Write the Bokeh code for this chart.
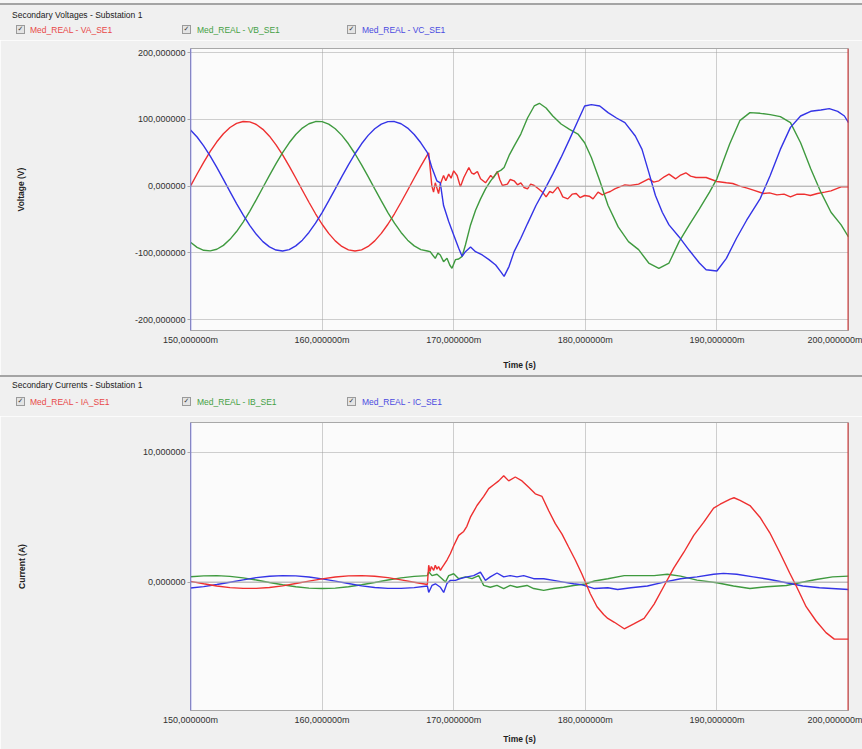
from bokeh.plotting import figure
from bokeh.layouts import column
from bokeh.models import Range1d, FixedTicker, Span, Div
from bokeh.embed import file_html
from bokeh.resources import INLINE

# ---------------- data (time in ms) ----------------
x_ticks = [150, 160, 170, 180, 190, 200]
x_tick_labels = ["150,000000m", "160,000000m", "170,000000m", "180,000000m", "190,000000m", "200,000000m"]
v_ticks = [200, 100, 0, -100, -200]
v_tick_labels = ["200,000000", "100,000000", "0,000000", "-100,000000", "-200,000000"]
i_ticks = [10, 0]
i_tick_labels = ["10,000000", "0,000000"]

title_v = "Secondary Voltages - Substation 1"
title_i = "Secondary Currents - Substation 1"
legend_v = ["Med_REAL - VA_SE1", "Med_REAL - VB_SE1", "Med_REAL - VC_SE1"]
legend_i = ["Med_REAL - IA_SE1", "Med_REAL - IB_SE1", "Med_REAL - IC_SE1"]

# pre-fault voltages (0.5 ms samples)
t_pre_v = [150.0, 150.5, 151.0, 151.5, 152.0, 152.5, 153.0, 153.5, 154.0, 154.5,
           155.0, 155.5, 156.0, 156.5, 157.0, 157.5, 158.0, 158.5, 159.0, 159.5,
           160.0, 160.5, 161.0, 161.5, 162.0, 162.5, 163.0, 163.5, 164.0, 164.5,
           165.0, 165.5, 166.0, 166.5, 167.0, 167.5, 168.0]
va_pre = [0, 18.2, 35.7, 52.0, 66.4, 78.5, 87.8, 94.0, 96.8, 96.2,
          92.3, 85.0, 74.8, 61.8, 46.7, 30.0, 12.2, -6.1, -24.1, -41.3,
          -57.0, -70.7, -81.9, -90.2, -95.3, -97.0, -95.3, -90.2, -81.9, -70.7,
          -57.0, -41.3, -24.1, -6.1, 12.2, 30.0, 46.7]
vb_pre = [-84.0, -91.6, -96.0, -96.9, -94.4, -88.6, -79.6, -67.9, -53.7, -37.6,
          -20.2, -2.0, 16.2, 33.8, 50.2, 64.9, 77.3, 86.9, 93.4, 96.7,
          96.5, 92.9, 85.9, 76.0, 63.4, 48.5, 31.9, 14.2, -4.1, -22.1,
          -39.5, -55.4, -69.3, -80.8, -89.4, -94.9, -97.0]
vc_pre = [84.0, 73.5, 60.3, 44.9, 28.0, 10.1, -8.1, -26.1, -43.1, -58.6,
          -72.1, -83.0, -90.9, -95.6, -97.0, -94.9, -89.4, -80.8, -69.3, -55.4,
          -39.5, -22.1, -4.1, 14.2, 31.9, 48.5, 63.4, 76.0, 85.9, 92.9,
          96.5, 96.7, 93.4, 86.9, 77.3, 64.9, 50.2]

# post-fault voltages
t_va_post = [168.1, 168.34, 168.47, 168.6, 168.85, 168.98, 169.23, 169.4, 169.62, 169.8,
             170.0, 170.26, 170.51, 170.77, 171.15, 171.35, 171.53, 171.8, 172.04, 172.42,
             172.81, 173.0, 173.32, 173.5, 173.7, 174.08, 174.3, 174.59, 174.85, 175.1,
             175.35, 175.61, 175.85, 176.12, 176.51, 176.75, 177.02, 177.3, 177.53, 177.91,
             178.1, 178.29, 178.67, 179.0, 179.31, 179.6, 179.95, 180.3, 180.59, 180.97,
             181.3, 181.61, 181.9, 182.24, 182.6, 183.01, 183.4, 184.05, 184.82, 185.2,
             185.59, 186.0, 186.36, 186.87, 187.2, 187.64, 188.0, 188.41, 189.18, 190.0,
             190.72, 191.2, 191.74, 192.3, 192.77, 193.54, 194.0, 194.56, 195.1, 195.59,
             196.1, 196.62, 197.1, 197.64, 198.2, 198.67, 199.44, 200.0]
va_post = [50, 0, -9, 5, -11, 3, 16, 8, 18, 12,
           23, 16, -1, 13, 28, 20, 18, 22, 11, 5,
           16, 12, 22, 10, 1, 3, 10, 8, 2, 5,
           -2, -4, 3, 1, -5, -9, -16, -8, -10, -1,
           -8, -16, -19, -12, -11, -17, -14, -15, -19, -9,
           -13, -10, -8, -4, -1, 2, 1, 3, 11, 6,
           8, 14, 18, 11, 16, 20, 15, 13, 13, 7,
           5, 4, 0, -3, -6, -11, -10, -13, -12, -16,
           -12, -12, -14, -11, -9, -7, -1, -1]

t_vb_post = [168.21, 168.4, 168.6, 168.8, 168.98, 169.23, 169.49, 169.7, 169.87, 170.13,
             170.38, 170.64, 170.89, 171.28, 171.66, 172.04, 172.42, 172.81, 173.32, 173.6,
             173.83, 174.21, 174.59, 175.1, 175.61, 176.12, 176.51, 177.02, 177.53, 178.16,
             178.8, 179.44, 179.95, 180.46, 181.1, 181.73, 182.5, 183.28, 184.05, 184.82,
             185.59, 186.36, 187.13, 187.9, 188.67, 189.44, 190.0, 190.46, 190.97, 191.74,
             192.51, 193.28, 194.05, 194.82, 195.59, 196.36, 197.13, 197.9, 198.67, 199.44,
             200.0]
vb_post = [-98, -103, -108, -100, -103, -113, -108, -118, -123, -110,
           -109, -105, -88, -58, -36, -19, -4, 8, 21, 24,
           28, 46, 60, 78, 102, 120, 124, 117, 105, 93,
           85, 78, 65, 43, 8, -29, -61, -83, -95, -115,
           -123, -115, -83, -58, -34, -9, 11, 36, 63, 98,
           110, 109, 107, 104, 95, 65, 26, -9, -39, -58,
           -76]

t_vc_post = [168.34, 168.72, 168.98, 169.23, 169.62, 170.0, 170.38, 170.64, 170.89, 171.28,
             171.66, 172.17, 172.68, 173.19, 173.57, 173.83, 174.21, 174.59, 175.1, 175.61,
             176.25, 176.89, 177.53, 178.16, 178.8, 179.44, 179.95, 180.46, 181.1, 181.73,
             182.37, 183.01, 183.8, 184.31, 184.82, 185.33, 185.85, 186.36, 187.13, 187.9,
             188.67, 189.18, 190.0, 190.72, 191.49, 192.26, 193.28, 194.05, 194.82, 195.59,
             196.36, 197.13, 197.9, 198.54, 199.18, 199.69, 200.0]
vc_post = [28, 8, 5, -29, -53, -73, -93, -105, -98, -91,
           -98, -103, -110, -118, -128, -135, -120, -98, -78, -56,
           -29, -6, 18, 43, 70, 98, 120, 122, 120, 110,
           102, 95, 75, 55, 21, -14, -39, -58, -76, -96,
           -115, -125, -127, -108, -78, -51, -19, 16, 55, 88,
           105, 112, 114, 116, 112, 105, 95]

# pre-fault currents (1 ms samples)
t_pre_i = [150, 151, 152, 153, 154, 155, 156, 157, 158, 159,
           160, 161, 162, 163, 164, 165, 166, 167, 168]
ia_pre = [0.05, -0.13, -0.30, -0.43, -0.49, -0.49, -0.42, -0.29, -0.11, 0.07,
          0.25, 0.39, 0.48, 0.50, 0.45, 0.34, 0.17, -0.01, -0.19]
ib_pre = [0.41, 0.48, 0.50, 0.44, 0.32, 0.16, -0.03, -0.21, -0.36, -0.47,
          -0.50, -0.47, -0.36, -0.21, -0.03, 0.16, 0.32, 0.44, 0.50]
ic_pre = [-0.46, -0.35, -0.19, -0.01, 0.17, 0.34, 0.45, 0.50, 0.48, 0.39,
          0.25, 0.07, -0.11, -0.29, -0.42, -0.49, -0.49, -0.43, -0.30]

# post-fault currents
t_ia_post = [168.1, 168.2, 168.3, 168.48, 168.6, 168.73, 168.85, 168.99, 169.1, 169.24,
             169.49, 169.75, 170.0, 170.38, 170.76, 171.0, 171.27, 171.77, 172.28, 172.66,
             173.04, 173.42, 173.8, 174.18, 174.68, 175.19, 175.7, 176.2, 176.71, 177.22,
             177.72, 178.23, 178.73, 179.24, 179.75, 180.0, 180.38, 180.89, 181.39, 181.71,
             182.21, 182.96, 183.72, 184.47, 185.23, 185.98, 186.73, 187.49, 188.24, 188.99,
             189.75, 190.25, 191.01, 191.3, 191.76, 192.51, 193.27, 194.02, 194.77, 195.53,
             196.03, 196.78, 197.54, 198.29, 198.92, 199.8, 200.0]
ia_post = [1.3, 0.8, 1.2, 0.9, 1.3, 1.0, 1.2, 0.9, 1.1, 1.3,
           1.7, 2.2, 2.8, 3.6, 3.9, 4.3, 5.0, 5.9, 6.6, 7.2,
           7.5, 7.8, 8.2, 7.8, 8.1, 7.8, 7.3, 6.8, 6.6, 5.5,
           4.5, 3.7, 2.7, 1.7, 0.6, 0.0, -0.9, -1.9, -2.5, -2.8,
           -3.1, -3.6, -3.2, -2.8, -1.7, -0.3, 1.1, 2.3, 3.6, 4.6,
           5.7, 6.0, 6.4, 6.5, 6.3, 5.9, 5.0, 3.8, 2.3, 0.7,
           -0.3, -1.9, -3.0, -3.9, -4.4, -4.4, -4.4]

t_ib_post = [168.1, 168.35, 168.73, 169.11, 169.37, 169.62, 170.0, 170.38, 170.89, 171.39,
             171.9, 172.28, 172.78, 173.29, 173.8, 174.3, 174.81, 175.57, 176.08, 176.84,
             177.59, 178.35, 179.11, 180.0, 180.7, 181.71, 182.96, 184.22, 185.23, 186.23,
             187.24, 188.49, 190.0, 191.26, 192.51, 193.77, 195.28, 196.28, 197.54, 198.79,
             200.0]
ib_post = [0.8, 0.5, 0.6, 0.26, 0.0, 0.5, 0.64, 0.26, 0.4, 0.26,
           0.5, -0.26, -0.4, -0.26, -0.5, -0.26, -0.4, -0.26, -0.5, -0.64,
           -0.5, -0.4, -0.26, -0.15, 0.08, 0.26, 0.5, 0.5, 0.5, 0.6,
           0.46, 0.15, -0.05, -0.3, -0.5, -0.36, -0.26, -0.05, 0.2, 0.4,
           0.46]

t_ic_post = [168.1, 168.35, 168.61, 168.99, 169.24, 169.49, 169.75, 170.13, 170.51, 171.01,
             171.52, 172.03, 172.41, 172.78, 173.29, 173.8, 174.3, 174.81, 175.32, 176.08,
             176.84, 177.59, 178.35, 179.11, 179.7, 180.7, 181.71, 182.46, 183.47, 184.72,
             185.98, 187.24, 188.49, 189.75, 190.5, 191.51, 192.76, 194.02, 195.28, 196.53,
             197.79, 200.0]
ic_post = [-0.8, -0.26, -0.13, -0.4, -0.8, -0.1, 0.13, 0.13, 0.26, 0.4,
           0.5, 0.77, 0.13, 0.4, 0.7, 0.4, 0.5, 0.4, 0.5, 0.26,
           0.26, 0.13, 0.0, -0.13, -0.2, -0.5, -0.44, -0.57, -0.44, -0.3,
           0.0, 0.26, 0.4, 0.6, 0.67, 0.6, 0.4, 0.2, -0.05, -0.3,
           -0.44, -0.57]

# ---------------- styling ----------------
RED, GREEN, BLUE = "#ee3030", "#3f9a3f", "#3434e6"
TXT_COLORS = ["#e84848", "#44a044", "#4a4ae0"]
PANEL_BG = "#f0f0f0"
FONT = "Liberation Sans"
W = 862
LEFT, RIGHT = 190, 14


def make_header(height, title, legend, title_top, legend_top, line_top):
    box_x = [16, 182, 347]
    txt_x = [30, 197, 362]
    parts = [
        f'<div style="position:relative;width:{W}px;height:{height}px;background:{PANEL_BG};'
        f"font-family:'{FONT}',sans-serif;font-size:8.5px;line-height:10px;overflow:hidden;\">",
        f'<div style="position:absolute;left:0;top:0;width:{W}px;height:{line_top}px;background:#f6f6f6;"></div>',
        f'<div style="position:absolute;left:0;top:{line_top}px;width:{W}px;height:2px;background:#a4a4a4;"></div>',
        f'<span style="position:absolute;left:12px;top:{title_top}px;color:#202020;'
        f'white-space:nowrap;">{title}</span>',
    ]
    for bx, tx, lab, col in zip(box_x, txt_x, legend, TXT_COLORS):
        parts.append(
            f'<span style="position:absolute;left:{bx}px;top:{legend_top}px;width:9px;height:9px;'
            f'box-sizing:border-box;border:1px solid #9a9a9a;background:#e4e4e4;color:#3a3a3a;'
            f"font-family:'DejaVu Sans';font-size:7px;line-height:7px;text-align:center;\">&#10003;</span>")
        parts.append(
            f'<span style="position:absolute;left:{tx}px;top:{legend_top - 0.5}px;color:{col};'
            f'white-space:nowrap;">{lab}</span>')
    parts.append("</div>")
    return Div(text="".join(parts), width=W, height=height, margin=0)


def make_panel(height, top, bottom, axis_title, y_range, ticks, tick_labels, series,
               ylab_standoff, xlab_standoff):
    p = figure(width=W, height=height, output_backend="svg", toolbar_location=None,
               x_range=Range1d(150, 200), y_range=Range1d(*y_range),
               min_border_left=LEFT, min_border_right=RIGHT,
               min_border_top=top, min_border_bottom=bottom)
    p.border_fill_color = PANEL_BG
    p.background_fill_color = "#fbfbfb"
    p.outline_line_color = "#a8a8a8"

    p.xaxis.ticker = FixedTicker(ticks=x_ticks)
    p.xaxis.major_label_overrides = dict(zip(x_ticks, x_tick_labels))
    p.yaxis.ticker = FixedTicker(ticks=ticks)
    p.yaxis.major_label_overrides = dict(zip(ticks, tick_labels))
    for ax in (p.xaxis, p.yaxis):
        ax.minor_tick_line_color = None
        ax.major_label_text_font = FONT
        ax.major_label_text_font_size = "9px"
        ax.major_label_text_color = "#303030"
        ax.axis_line_color = "#a8a8a8"
        ax.major_tick_line_color = "#a8a8a8"
        ax.axis_label_text_font = FONT
        ax.axis_label_text_font_size = "8.5px"
        ax.axis_label_text_font_style = "bold"
        ax.axis_label_text_color = "#202020"
    p.xaxis.major_tick_out = 0
    p.xaxis.major_tick_in = 0
    p.xaxis.major_label_standoff = 4
    p.xaxis.axis_label = "Time (s)"
    p.xaxis.axis_label_standoff = xlab_standoff
    p.yaxis.major_tick_out = 3
    p.yaxis.major_tick_in = 0
    p.yaxis.major_label_standoff = 2
    p.yaxis.axis_label = axis_title
    p.yaxis.axis_label_standoff = ylab_standoff

    p.xgrid.ticker = FixedTicker(ticks=x_ticks)
    p.ygrid.ticker = FixedTicker(ticks=ticks)
    for g in (p.xgrid, p.ygrid):
        g.grid_line_color = "#a0a0a0"
        g.grid_line_dash = "1 1"
        g.grid_line_width = 1

    p.add_layout(Span(location=0, dimension="width", line_color="#b4b4b4", line_width=1))
    for (t, y, c) in series:
        p.line(t, y, line_color=c, line_width=1.4)
    p.add_layout(Span(location=150, dimension="height", line_color="#6464e0", line_width=1.5))
    p.add_layout(Span(location=200, dimension="height", line_color="#d83030", line_width=2))
    return p


h1 = make_header(40, title_v, legend_v, 10, 25, 3)
p1 = make_panel(335, 8, 45, "Voltage (V)", (-216, 206), v_ticks, v_tick_labels,
                [(t_pre_v + t_va_post, va_pre + va_post, RED),
                 (t_pre_v + t_vb_post, vb_pre + vb_post, GREEN),
                 (t_pre_v + t_vc_post, vc_pre + vc_post, BLUE)],
                ylab_standoff=106, xlab_standoff=12)
h2 = make_header(41, title_i, legend_i, 5, 22, 0)
p2 = make_panel(333, 6, 39, "Current (A)", (-9.9, 12.3), i_ticks, i_tick_labels,
                [(t_pre_i + t_ib_post, ib_pre + ib_post, GREEN),
                 (t_pre_i + t_ic_post, ic_pre + ic_post, BLUE),
                 (t_pre_i + t_ia_post, ia_pre + ia_post, RED)],
                ylab_standoff=113, xlab_standoff=6)

layout = column(h1, p1, h2, p2, spacing=0)
open("out.html", "w").write(file_html(layout, INLINE))
